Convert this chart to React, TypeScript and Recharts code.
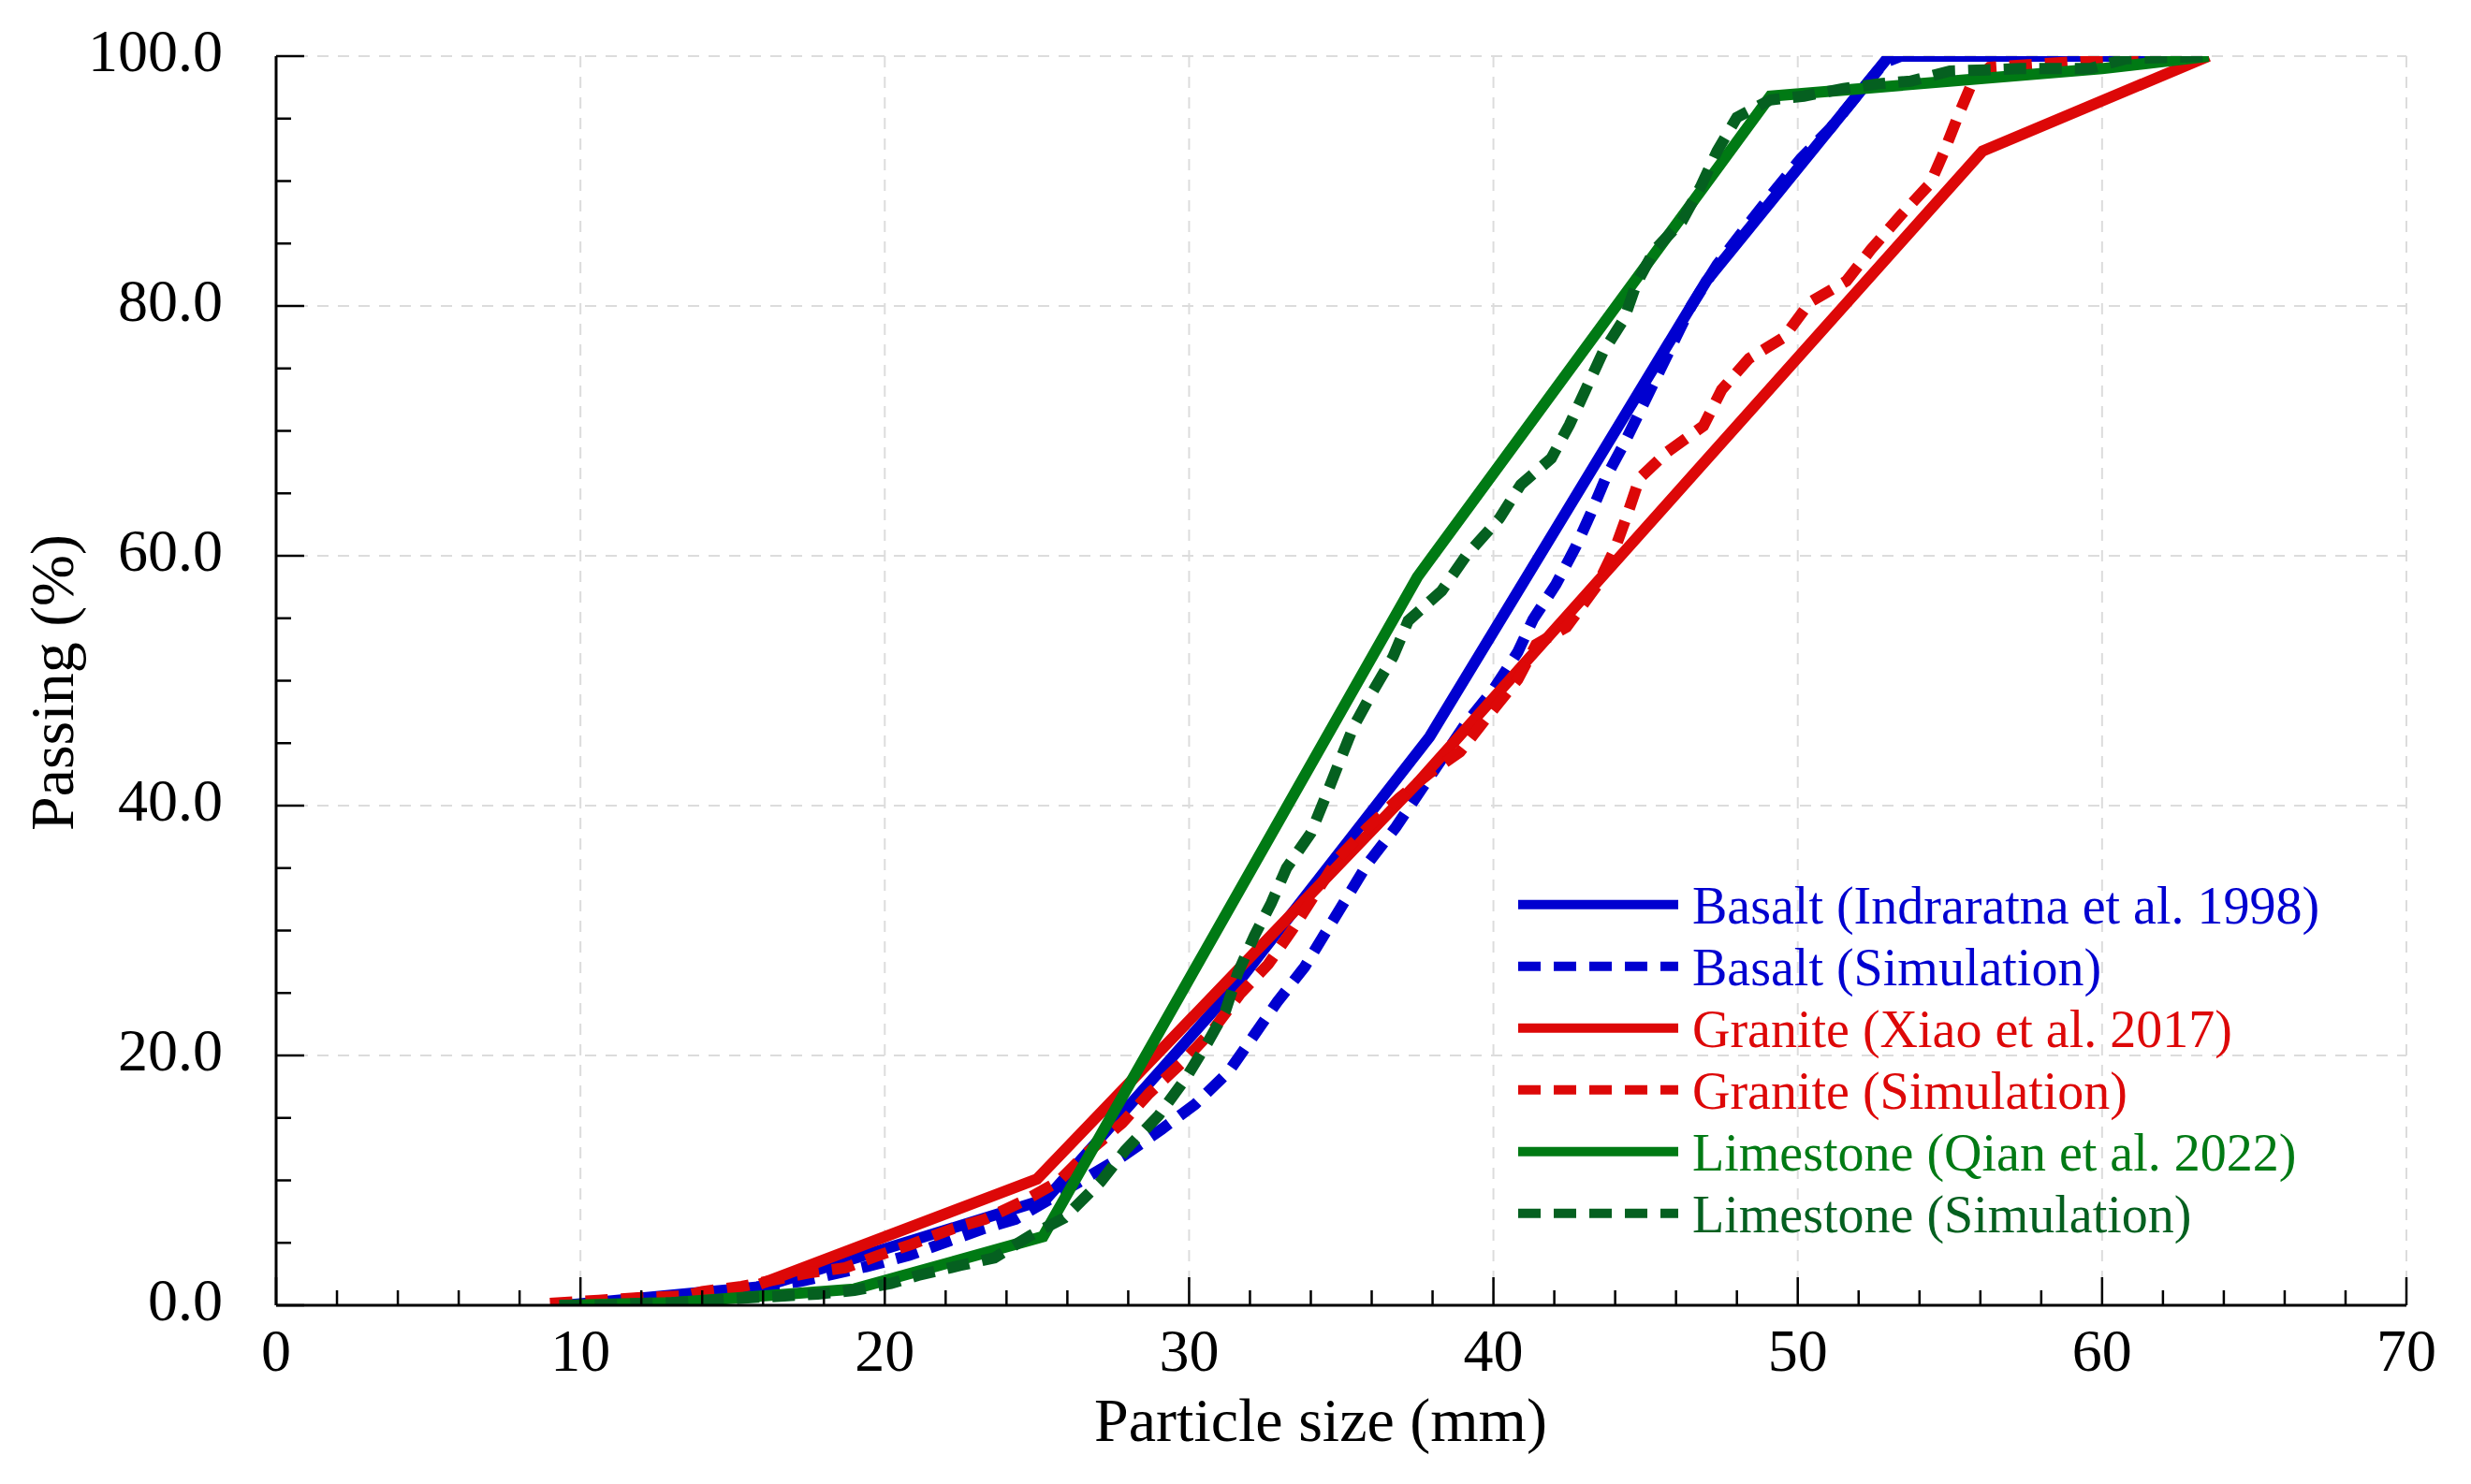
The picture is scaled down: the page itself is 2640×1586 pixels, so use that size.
import React from 'react';
import { LineChart, Line, XAxis, YAxis, CartesianGrid, Legend, Label } from 'recharts';

const FONT = '"Liberation Serif", "Times New Roman", Times, serif';

// ---- axis ticks ----
const xMajorTicks = [0, 10, 20, 30, 40, 50, 60, 70];
const xAllTicks = [0, 2, 4, 6, 8, 10, 12, 14, 16, 18, 20, 22, 24, 26, 28, 30, 32, 34, 36, 38, 40, 42, 44, 46, 48, 50, 52, 54, 56, 58, 60, 62, 64, 66, 68, 70];
const yMajorTicks = [0, 20, 40, 60, 80, 100];
const yAllTicks = [0, 5, 10, 15, 20, 25, 30, 35, 40, 45, 50, 55, 60, 65, 70, 75, 80, 85, 90, 95, 100];

// ---- series (particle size mm, passing %) ----
const basaltExp: [number, number][] = [
  [9.5, 0], [16, 1.5], [25.3, 8.5], [31.5, 25.5], [37.9, 45.5], [47, 82], [53, 100], [63.5, 100],
];
const basaltSim: [number, number][] = [
  [10, 0], [12.6, 0.2], [14.3, 1.0], [17.2, 1.9], [19.4, 3.1], [20.8, 4.0], [23.2, 6.1], [24.3, 6.9],
  [26.2, 9.6], [27.8, 11.9], [29.1, 14.1], [30.2, 16.1], [31.3, 18.7], [32.1, 21.5], [32.9, 24.3],
  [33.8, 27.1], [35.85, 35.3], [36.8, 38.3], [39.1, 46.6], [40.0, 49.3], [40.8, 52.3], [41.3, 54.9],
  [42.05, 57.7], [42.7, 60.7], [43.2, 63.4], [43.7, 66.3], [44.3, 69.0], [44.9, 72.0], [46.5, 80.0],
  [47.35, 83.3], [48.2, 86.0], [49.1, 88.8], [50.1, 91.8], [51.1, 94.3], [52.0, 97.0], [52.85, 99.5],
  [53.4, 100], [62, 100],
];
const graniteExp: [number, number][] = [
  [15.9, 1.7], [25, 10.1], [37.5, 41.8], [56.07, 92.4], [63.5, 100],
];
const graniteSim: [number, number][] = [
  [9.0, 0.15], [10.6, 0.4], [11.9, 0.6], [13.4, 0.75], [14.0, 1.1], [15.3, 1.5], [17.5, 2.6], [18.7, 3.0],
  [19.8, 4.0], [20.9, 4.9], [22.2, 6.1], [23.3, 6.9], [24.6, 8.4], [25.7, 9.9], [26.6, 12.1], [27.8, 14.6],
  [28.7, 17.0], [29.8, 19.5], [30.8, 22.1], [31.7, 25.0], [32.6, 27.3], [33.4, 30.1], [34.9, 35.8],
  [35.85, 38.2], [36.9, 40.6], [37.9, 42.6], [38.9, 44.3], [39.8, 47.1], [40.8, 50.1], [41.4, 52.9],
  [42.4, 54.3], [43.4, 57.6], [44.0, 60.6], [44.4, 63.3], [44.8, 66.2], [45.7, 68.3], [46.9, 70.4],
  [47.5, 73.3], [48.4, 75.8], [49.55, 77.5], [50.4, 80.3], [51.6, 82.0], [52.4, 84.5], [53.4, 87.3],
  [54.35, 89.8], [54.8, 92.3], [55.25, 95.1], [55.7, 97.7], [56.3, 99.1], [60, 99.7], [63.5, 100],
];
const limestoneExp: [number, number][] = [
  [9.5, 0], [13, 0.2], [19, 1.3], [25.2, 5.5], [37.5, 58.3], [49.1, 96.8], [60, 99], [63.5, 100],
];
const limestoneSim: [number, number][] = [
  [9.3, 0], [10.8, 0], [12.0, 0.15], [13.0, 0.2], [14.3, 0.4], [15.5, 0.6], [16.7, 0.75], [17.8, 0.9],
  [19.0, 1.2], [20.2, 1.75], [21.1, 2.4], [22.5, 3.2], [23.6, 3.8], [24.8, 5.6], [25.9, 7.0], [27.1, 9.9],
  [27.9, 12.4], [29.0, 15.2], [29.9, 18.2], [30.6, 21.0], [31.2, 23.6], [31.6, 26.6], [32.15, 29.6],
  [32.7, 32.2], [33.2, 35.0], [34.0, 37.8], [34.5, 40.8], [34.97, 43.7], [35.4, 46.3], [36.05, 49.2],
  [36.7, 51.9], [37.2, 54.8], [38.3, 57.2], [39.1, 60.0], [40.2, 63.0], [40.9, 65.7], [41.9, 67.8],
  [42.5, 70.5], [43.6, 76.3], [44.3, 79.0], [44.7, 81.8], [45.3, 84.5], [46.2, 86.8], [46.8, 89.5],
  [47.35, 92.4], [48.0, 95.1], [49.1, 96.5], [50.2, 96.8], [51.5, 97.4], [52.7, 97.8], [53.7, 98.0],
  [55.0, 98.8], [56.2, 98.9], [57.3, 99.0], [59.6, 99.0], [60.8, 99.8], [63.6, 100],
];

const seriesNames = [
  'Basalt (Indraratna et al. 1998)',
  'Basalt (Simulation)',
  'Granite (Xiao et al. 2017)',
  'Granite (Simulation)',
  'Limestone (Qian et al. 2022)',
  'Limestone (Simulation)',
];
const seriesValues = [basaltExp, basaltSim, graniteExp, graniteSim, limestoneExp, limestoneSim];
const seriesColors = ['#0000D0', '#0000D0', '#DD0808', '#DD0808', '#007A14', '#056020'];
const seriesDashed = [false, true, false, true, false, true];

const DASH = '24 14';

const toData = (pts: [number, number][]) => pts.map(([x, y]) => ({ x, y }));

const TICK_W = 2.5;
const MAJ = 30;
const MIN = 16;

const BottomTick = (props: any) => {
  const { x, y, payload } = props;
  const v = payload.value;
  const major = v % 10 === 0;
  return (
    <g>
      <line x1={x} y1={y} x2={x} y2={y - (major ? MAJ : MIN)} stroke="#000" strokeWidth={TICK_W} />
      {major && (
        <text x={x} y={y + 70} textAnchor="middle" fontSize={64} fontFamily={FONT} fill="#000">
          {v}
        </text>
      )}
    </g>
  );
};

const TopTick = (props: any) => {
  const { x, y, payload } = props;
  const major = payload.value % 10 === 0;
  return <line x1={x} y1={y} x2={x} y2={y + (major ? MAJ : MIN)} stroke="#000" strokeWidth={TICK_W} />;
};

const LeftTick = (props: any) => {
  const { x, y, payload } = props;
  const v = payload.value;
  const major = v % 20 === 0;
  return (
    <g>
      <line x1={x} y1={y} x2={x + (major ? MAJ : MIN)} y2={y} stroke="#000" strokeWidth={TICK_W} />
      {major && (
        <text x={x - 57} y={y + 16} textAnchor="end" fontSize={64} fontFamily={FONT} fill="#000">
          {v.toFixed(1)}
        </text>
      )}
    </g>
  );
};

const RightTick = (props: any) => {
  const { x, y, payload } = props;
  const major = payload.value % 20 === 0;
  return <line x1={x} y1={y} x2={x - (major ? MAJ : MIN)} y2={y} stroke="#000" strokeWidth={TICK_W} />;
};

const XTitle = (props: any) => {
  const vb = props.viewBox || { x: 295, y: 1395, width: 2276, height: 191 };
  return (
    <text x={vb.x + vb.width / 2 - 22} y={vb.y + 145} textAnchor="middle" fontSize={66} fontFamily={FONT} fill="#000">
      Particle size (mm)
    </text>
  );
};

const YTitle = (props: any) => {
  const vb = props.viewBox || { x: 0, y: 60, width: 295, height: 1335 };
  const cx = 78;
  const cy = vb.y + vb.height / 2 + 2;
  return (
    <text x={cx} y={cy} transform={`rotate(-90, ${cx}, ${cy})`} textAnchor="middle" fontSize={66} fontFamily={FONT} fill="#000">
      Passing (%)
    </text>
  );
};

const LegendContent = () => (
  <svg width={1000} height={420} style={{ display: 'block' }}>
    {seriesNames.map((name, i) => {
      const cy = 46.7 + 66 * i;
      return (
        <g key={name}>
          <line
            x1={22}
            y1={cy}
            x2={193}
            y2={cy}
            stroke={seriesColors[i]}
            strokeWidth={10}
            strokeDasharray={seriesDashed[i] ? DASH : undefined}
          />
          <text x={208} y={cy + 20} fontSize={56} fontFamily={FONT} fill={seriesColors[i]}>
            {name}
          </text>
        </g>
      );
    })}
  </svg>
);

export default function App() {
  return (
    <div style={{ position: 'absolute', left: 0, top: 0, width: 2640, height: 1586, background: '#fff' }}>
      <LineChart width={2640} height={1586} margin={{ top: 60, right: 69, bottom: 0, left: 0 }}>
        <CartesianGrid
          xAxisId="b"
          yAxisId="l"
          verticalValues={xMajorTicks}
          horizontalValues={yMajorTicks}
          stroke="#DCDCDC"
          strokeWidth={2}
          strokeDasharray="12 10"
        />
        <XAxis
          xAxisId="b"
          dataKey="x"
          type="number"
          domain={[0, 70]}
          ticks={xAllTicks}
          interval={0}
          allowDataOverflow
          height={191}
          tickSize={0}
          tickMargin={0}
          tickLine={false}
          tick={<BottomTick />}
          axisLine={{ stroke: '#000', strokeWidth: 3 }}
        >
          <Label content={<XTitle />} />
        </XAxis>
        <XAxis
          xAxisId="t"
          orientation="top"
          type="number"
          domain={[0, 70]}
          ticks={xAllTicks}
          interval={0}
          allowDataOverflow
          height={0}
          tickSize={0}
          tickMargin={0}
          tickLine={false}
          tick={<TopTick />}
          axisLine={{ stroke: '#000', strokeWidth: 3 }}
        />
        <YAxis
          yAxisId="l"
          type="number"
          domain={[0, 100]}
          ticks={yAllTicks}
          interval={0}
          allowDataOverflow
          width={295}
          tickSize={0}
          tickMargin={0}
          tickLine={false}
          tick={<LeftTick />}
          axisLine={{ stroke: '#000', strokeWidth: 3 }}
        >
          <Label content={<YTitle />} />
        </YAxis>
        <YAxis
          yAxisId="r"
          orientation="right"
          type="number"
          domain={[0, 100]}
          ticks={yAllTicks}
          interval={0}
          allowDataOverflow
          width={0}
          tickSize={0}
          tickMargin={0}
          tickLine={false}
          tick={<RightTick />}
          axisLine={{ stroke: '#000', strokeWidth: 3 }}
        />
        {seriesNames.map((name, i) => (
          <Line
            key={name}
            name={name}
            xAxisId="b"
            yAxisId="l"
            data={toData(seriesValues[i])}
            dataKey="y"
            type="linear"
            stroke={seriesColors[i]}
            strokeWidth={12}
            strokeDasharray={seriesDashed[i] ? DASH : undefined}
            dot={false}
            activeDot={false}
            isAnimationActive={false}
          />
        ))}
        <Legend
          layout="vertical"
          align="center"
          verticalAlign="middle"
          wrapperStyle={{ left: 1600, top: 920, width: 1000, height: 420 }}
          content={<LegendContent />}
        />
      </LineChart>
    </div>
  );
}
